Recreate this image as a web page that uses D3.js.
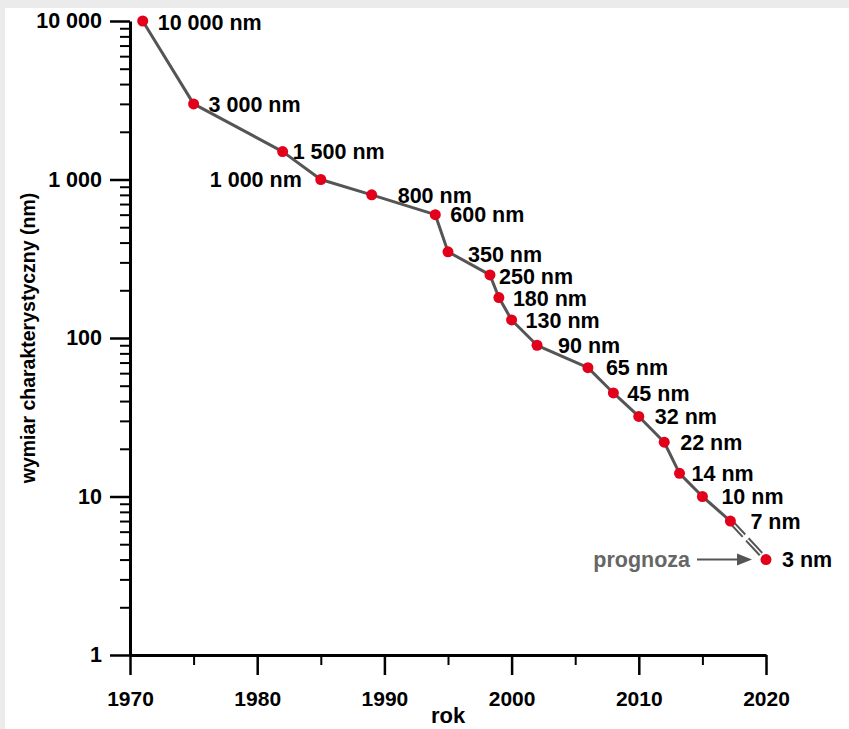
<!DOCTYPE html>
<html>
<head>
<meta charset="utf-8">
<script src="https://cdn.jsdelivr.net/npm/d3@7"></script>
<style>
  body { margin: 0; background: #ebebeb; }
  svg { display: block; font-family: 'Liberation Sans', Arial, sans-serif; font-weight: bold; }
</style>
</head>
<body>
<div id="chart"></div>
<script>
// Feature size of chips by year (nm), last point is the forecast
const years = [1971, 1975, 1982, 1985, 1989, 1994, 1995, 1998.3, 1999, 2000, 2002, 2006, 2008, 2010, 2012, 2013.2, 2015, 2017.2, 2020]
const sizes = [10000, 3000, 1500, 1000, 800, 600, 350, 250, 180, 130, 90, 65, 45, 32, 22, 14, 10, 7, 4]
const labels = ['10 000 nm', '3 000 nm', '1 500 nm', '1 000 nm', '800 nm', '600 nm', '350 nm', '250 nm', '180 nm', '130 nm',
  '90 nm', '65 nm', '45 nm', '32 nm', '22 nm', '14 nm', '10 nm', '7 nm', '3 nm']
const xTicks = [1970, 1980, 1990, 2000, 2010, 2020]
const xMinorTicks = [1975, 1985, 1995, 2005, 2015]
const yTicks = [1, 10, 100, 1000, 10000]
const yTickLabels = ['1', '10', '100', '1 000', '10 000']

// label placement next to each point [dx, dy]
const labelOffsets = [[15, 1], [15, 0], [10, 0], [-19, 0], [26, 0], [15, 0], [20, 2], [9, 1], [14, 1], [14, 0],
  [21, 0], [18, 0], [14, 0], [16, 0], [16, 0], [12, 0], [19, 0], [20, 0], [16, 0]]

const W = 849, H = 729
const FS = 21.5
const data = years.map((yr, i) => ({ year: yr, size: sizes[i], label: labels[i], off: labelOffsets[i] }))

const svg = d3.select('#chart').append('svg').attr('width', W).attr('height', H)

svg.append('rect').attr('x', 5).attr('y', 8).attr('width', W - 5).attr('height', H - 8).attr('fill', '#fff')

const x = d3.scaleLinear().domain([1970, 2020]).range([130, 766])
const y = d3.scaleLog().domain([1, 10000]).range([655, 21])

// Y axis
const yMinor = y.ticks().filter(v => !yTicks.includes(v))
svg.append('g')
  .attr('transform', `translate(${x(1970)},0)`)
  .call(d3.axisLeft(y).tickValues(yMinor).tickSize(10).tickSizeOuter(0).tickFormat(''))
  .call(ax => ax.select('.domain').remove())
  .call(ax => ax.selectAll('line').attr('stroke', '#000').attr('stroke-width', 2))

svg.append('g')
  .attr('transform', `translate(${x(1970)},0)`)
  .call(d3.axisLeft(y).tickValues(yTicks).tickSize(20).tickSizeOuter(0).tickPadding(8)
    .tickFormat((d, i) => yTickLabels[i]))
  .call(ax => ax.select('.domain').attr('stroke', '#000').attr('stroke-width', 3))
  .call(ax => ax.selectAll('line').attr('stroke', '#000').attr('stroke-width', 2.5))
  .call(ax => ax.selectAll('text').attr('fill', '#000').attr('font-size', FS).attr('font-family', null))

// X axis
svg.append('g')
  .attr('transform', `translate(0,${y(1)})`)
  .call(d3.axisBottom(x).tickValues(xMinorTicks).tickSize(10).tickSizeOuter(0).tickFormat(''))
  .call(ax => ax.select('.domain').remove())
  .call(ax => ax.selectAll('line').attr('stroke', '#000').attr('stroke-width', 2))

svg.append('g')
  .attr('transform', `translate(0,${y(1)})`)
  .call(d3.axisBottom(x).tickValues(xTicks).tickSize(20).tickSizeOuter(0).tickPadding(16).tickFormat(d3.format('d')))
  .call(ax => ax.select('.domain').attr('stroke', '#000').attr('stroke-width', 3))
  .call(ax => ax.selectAll('line').attr('stroke', '#000').attr('stroke-width', 2.5))
  .call(ax => ax.selectAll('text').attr('fill', '#000').attr('font-size', 21).attr('font-family', null))

// Axis titles
svg.append('text')
  .attr('x', (x(1970) + x(2020)) / 2).attr('y', 723)
  .attr('text-anchor', 'middle').attr('font-size', 22).attr('fill', '#000')
  .text('rok')

svg.append('text')
  .attr('transform', `translate(35,${(y(1) + y(10000)) / 2}) rotate(-90)`)
  .attr('text-anchor', 'middle').attr('font-size', 19.5).attr('fill', '#000')
  .text('wymiar charakterystyczny (nm)')

// Lines
const line = d3.line().x(d => x(d.year)).y(d => y(d.size))
const solid = data.slice(0, data.length - 1)
const forecast = data.slice(data.length - 2)

svg.append('path').datum(solid)
  .attr('fill', 'none').attr('stroke', '#555').attr('stroke-width', 3).attr('stroke-linejoin', 'round')
  .attr('d', line)

svg.append('path').datum(forecast)
  .attr('fill', 'none').attr('stroke', '#555').attr('stroke-width', 5.5).attr('stroke-dasharray', '20,5')
  .attr('d', line)
svg.append('path').datum(forecast)
  .attr('fill', 'none').attr('stroke', '#fff').attr('stroke-width', 1.5).attr('stroke-dasharray', '20,5')
  .attr('d', line)

// Points
svg.selectAll('.dot').data(data).enter().append('circle')
  .attr('class', 'dot')
  .attr('cx', d => x(d.year)).attr('cy', d => y(d.size))
  .attr('r', 5.5).attr('fill', '#e2001a')

// Point labels
svg.selectAll('.lbl').data(data).enter().append('text')
  .attr('class', 'lbl')
  .attr('x', d => x(d.year) + d.off[0])
  .attr('y', d => y(d.size) + d.off[1])
  .attr('dy', '0.36em')
  .attr('text-anchor', d => d.off[0] < 0 ? 'end' : 'start')
  .attr('font-size', FS).attr('fill', '#000')
  .text(d => d.label)

// Forecast annotation
const last = data[data.length - 1]
const tipX = x(last.year) - 14, tipY = y(last.size)
svg.append('line')
  .attr('x1', tipX - 55).attr('x2', tipX - 12).attr('y1', tipY).attr('y2', tipY)
  .attr('stroke', '#555').attr('stroke-width', 2)
svg.append('path')
  .attr('d', `M${tipX},${tipY}L${tipX - 15},${tipY - 6}L${tipX - 15},${tipY + 6}Z`)
  .attr('fill', '#555')
svg.append('text')
  .attr('x', tipX - 62).attr('y', tipY).attr('dy', '0.36em')
  .attr('text-anchor', 'end').attr('font-size', FS).attr('fill', '#666')
  .text('prognoza')
</script>
</body>
</html>
